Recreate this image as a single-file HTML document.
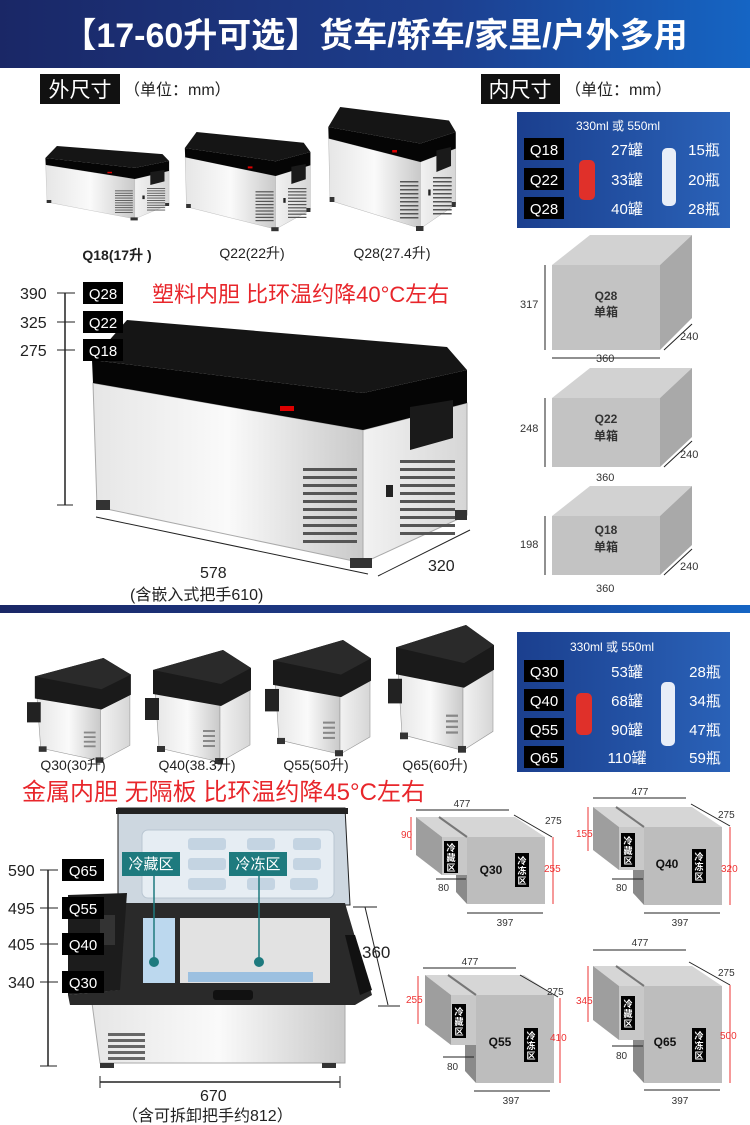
<!DOCTYPE html>
<html><head><meta charset="utf-8"><style>
html,body{margin:0;padding:0;background:#fff;width:750px;height:1125px;overflow:hidden}
svg{display:block;font-family:"Liberation Sans","Noto Sans CJK SC",sans-serif}
</style></head><body>
<svg width="750" height="1125" viewBox="0 0 750 1125" xmlns="http://www.w3.org/2000/svg">
<defs>
<linearGradient id="hdr" x1="0" x2="1"><stop offset="0" stop-color="#1a2766"/><stop offset="0.6" stop-color="#1d3f8f"/><stop offset="1" stop-color="#1565c4"/></linearGradient>
<linearGradient id="tbl" x1="0" x2="1"><stop offset="0" stop-color="#1b3f8e"/><stop offset="1" stop-color="#2a62b8"/></linearGradient>
<linearGradient id="silver" x1="0" x2="1"><stop offset="0" stop-color="#e6e6e6"/><stop offset="0.5" stop-color="#fafafa"/><stop offset="1" stop-color="#c9c9c9"/></linearGradient>
<linearGradient id="side" x1="0" x2="1"><stop offset="0" stop-color="#f2f2f2"/><stop offset="1" stop-color="#d6d6d6"/></linearGradient>
<g id="fr1">
<polygon points="93,383 363,430 363,563 97,507" fill="url(#silver)" stroke="#aaa" stroke-width="1"/>
<polygon points="363,430 467,403 467,515 363,563" fill="url(#side)" stroke="#aaa"/>
<polygon points="92,360 127,320 447,347 467,370 363,393" fill="#151515"/>
<polygon points="92,360 363,393 467,370 467,403 363,430 93,383" fill="#050505"/>
<polygon points="410,407 453,400 453,438 410,450" fill="#1a1a1a"/>
<g fill="#555"><rect x="303" y="468" width="54" height="3"/><rect x="303" y="476" width="54" height="3"/><rect x="303" y="484" width="54" height="3"/><rect x="303" y="492" width="54" height="3"/><rect x="303" y="500" width="54" height="3"/><rect x="303" y="508" width="54" height="3"/><rect x="303" y="516" width="54" height="3"/><rect x="303" y="524" width="54" height="3"/><rect x="303" y="532" width="54" height="3"/><rect x="303" y="540" width="54" height="3"/></g>
<g fill="#555"><rect x="400" y="460" width="55" height="3"/><rect x="400" y="468" width="55" height="3"/><rect x="400" y="476" width="55" height="3"/><rect x="400" y="484" width="55" height="3"/><rect x="400" y="492" width="55" height="3"/><rect x="400" y="500" width="55" height="3"/><rect x="400" y="508" width="55" height="3"/><rect x="400" y="516" width="55" height="3"/><rect x="400" y="524" width="55" height="3"/><rect x="400" y="532" width="55" height="3"/></g>
<rect x="386" y="485" width="7" height="12" fill="#222"/>
<rect x="96" y="500" width="14" height="10" fill="#333"/><rect x="350" y="558" width="22" height="10" fill="#333"/><rect x="455" y="510" width="12" height="10" fill="#333"/>
<rect x="280" y="406" width="14" height="5" fill="#d00"/>
</g>
<g id="fr2">
<polygon points="10,40 75,48 75,112 14,98" fill="url(#silver)" stroke="#999" stroke-width="0.6"/>
<polygon points="75,48 105,38 105,95 75,112" fill="url(#side)" stroke="#999" stroke-width="0.6"/>
<polygon points="8,20 78,0 106,18 106,40 76,56 8,44" fill="#1a1a1a"/>
<polygon points="8,20 78,0 106,18 76,34" fill="#2a2a2a"/>
<rect x="0" y="48" width="14" height="22" fill="#222"/>
<g fill="#888"><rect x="58" y="80" width="12" height="2"/><rect x="58" y="85" width="12" height="2"/><rect x="58" y="90" width="12" height="2"/><rect x="58" y="95" width="12" height="2"/></g>
<rect x="12" y="96" width="8" height="6" fill="#333"/><rect x="70" y="108" width="8" height="6" fill="#333"/>
</g>
</defs>

<!-- header -->
<rect x="0" y="0" width="750" height="68" fill="url(#hdr)"/>
<text x="375" y="47" text-anchor="middle" font-size="34" font-weight="bold" fill="#fff">【17-60升可选】货车/轿车/家里/户外多用</text>

<!-- section labels -->
<rect x="40" y="74" width="80" height="30" fill="#111"/>
<text x="80" y="97" text-anchor="middle" font-size="21" fill="#fff">外尺寸</text>
<text x="124" y="95" font-size="16" fill="#222">（单位：mm）</text>
<rect x="481" y="74" width="79" height="30" fill="#111"/>
<text x="520" y="97" text-anchor="middle" font-size="21" fill="#fff">内尺寸</text>
<text x="565" y="95" font-size="16" fill="#222">（单位：mm）</text>

<!-- small fridges top -->
<use href="#fr1" transform="translate(15,50) scale(0.33,0.3)"/>
<use href="#fr1" transform="translate(154,4) scale(0.335,0.4)"/>
<use href="#fr1" transform="translate(297,-53) scale(0.34,0.5)"/>
<text x="117" y="260" text-anchor="middle" font-size="14" font-weight="bold" fill="#222">Q18(17升 )</text>
<text x="252" y="258" text-anchor="middle" font-size="14" fill="#222">Q22(22升)</text>
<text x="392" y="258" text-anchor="middle" font-size="14" fill="#222">Q28(27.4升)</text>

<!-- table 1 -->
<rect x="517" y="112" width="213" height="116" fill="url(#tbl)"/>
<text x="576" y="130" font-size="12" fill="#fff">330ml   或   550ml</text>
<g font-size="15" fill="#fff">
<rect x="524" y="138" width="40" height="22" fill="#000"/><text x="544" y="155" text-anchor="middle">Q18</text>
<rect x="524" y="168" width="40" height="22" fill="#000"/><text x="544" y="185" text-anchor="middle">Q22</text>
<rect x="524" y="197" width="40" height="22" fill="#000"/><text x="544" y="214" text-anchor="middle">Q28</text>
<text x="627" y="155" text-anchor="middle">27罐</text><text x="627" y="185" text-anchor="middle">33罐</text><text x="627" y="214" text-anchor="middle">40罐</text>
<text x="704" y="155" text-anchor="middle">15瓶</text><text x="704" y="185" text-anchor="middle">20瓶</text><text x="704" y="214" text-anchor="middle">28瓶</text>
</g>
<rect x="579" y="160" width="16" height="40" rx="5" fill="#e0302a"/>
<rect x="662" y="148" width="14" height="58" rx="5" fill="#e8eef8"/>

<!-- cubes -->
<g font-size="12" fill="#333">
<g>
<polygon points="552,265 590,235 692,235 660,265" fill="#d2d2d2"/>
<polygon points="660,265 692,235 692,318 660,350" fill="#a9a9a9"/>
<rect x="552" y="265" width="108" height="85" fill="#c3c3c3"/>
<line x1="545" y1="265" x2="545" y2="350" stroke="#222"/><text x="520" y="308" font-size="11">317</text>
<line x1="552" y1="358" x2="660" y2="358" stroke="#222"/><text x="596" y="362" font-size="11">360</text>
<line x1="664" y1="350" x2="692" y2="324" stroke="#222"/><text x="680" y="340" font-size="11">240</text>
<text x="606" y="300" text-anchor="middle" font-weight="bold">Q28</text><text x="606" y="316" text-anchor="middle" font-weight="bold">单箱</text>
</g>
<g>
<polygon points="552,398 590,368 692,368 660,398" fill="#d2d2d2"/>
<polygon points="660,398 692,368 692,437 660,467" fill="#a9a9a9"/>
<rect x="552" y="398" width="108" height="69" fill="#c3c3c3"/>
<line x1="545" y1="398" x2="545" y2="467" stroke="#222"/><text x="520" y="432" font-size="11">248</text>
<text x="596" y="481" font-size="11">360</text>
<line x1="664" y1="467" x2="692" y2="441" stroke="#222"/><text x="680" y="458" font-size="11">240</text>
<text x="606" y="423" text-anchor="middle" font-weight="bold">Q22</text><text x="606" y="440" text-anchor="middle" font-weight="bold">单箱</text>
</g>
<g>
<polygon points="552,516 590,486 692,486 660,516" fill="#d2d2d2"/>
<polygon points="660,516 692,486 692,545 660,575" fill="#a9a9a9"/>
<rect x="552" y="516" width="108" height="59" fill="#c3c3c3"/>
<line x1="545" y1="516" x2="545" y2="575" stroke="#222"/><text x="520" y="548" font-size="11">198</text>
<text x="596" y="592" font-size="11">360</text>
<line x1="664" y1="575" x2="692" y2="549" stroke="#222"/><text x="680" y="570" font-size="11">240</text>
<text x="606" y="534" text-anchor="middle" font-weight="bold">Q18</text><text x="606" y="551" text-anchor="middle" font-weight="bold">单箱</text>
</g>
</g>

<!-- big fridge 1 -->
<use href="#fr1"/>
<line x1="96" y1="517" x2="368" y2="574" stroke="#222"/>
<line x1="378" y1="576" x2="470" y2="530" stroke="#222"/>
<text x="200" y="578" font-size="16" fill="#222">578</text>
<text x="428" y="571" font-size="16" fill="#222">320</text>
<text x="130" y="600" font-size="16" fill="#222">(含嵌入式把手610)</text>

<!-- left dims section 1 -->
<g font-size="16" fill="#222">
<text x="20" y="299">390</text><text x="20" y="328">325</text><text x="20" y="356">275</text>
<line x1="65" y1="293" x2="65" y2="505" stroke="#222" stroke-width="1.5"/>
<line x1="57" y1="293" x2="75" y2="293" stroke="#222"/><line x1="57" y1="322" x2="75" y2="322" stroke="#222"/><line x1="57" y1="350" x2="75" y2="350" stroke="#222"/><line x1="57" y1="505" x2="73" y2="505" stroke="#222"/>
<rect x="83" y="282" width="40" height="22" fill="#000"/><text x="103" y="299" text-anchor="middle" fill="#fff" font-size="15">Q28</text>
<rect x="83" y="311" width="40" height="22" fill="#000"/><text x="103" y="328" text-anchor="middle" fill="#fff" font-size="15">Q22</text>
<rect x="83" y="339" width="40" height="22" fill="#000"/><text x="103" y="356" text-anchor="middle" fill="#fff" font-size="15">Q18</text>
</g>
<text x="152" y="302" font-size="22" fill="#e8262b">塑料内胆 比环温约降40°C左右</text>

<!-- divider -->
<rect x="0" y="605" width="750" height="8" fill="url(#hdr)"/>

<!-- section 2 fridges -->
<use href="#fr2" transform="translate(27,658) scale(0.98,0.92)"/>
<use href="#fr2" transform="translate(145,650) scale(1,1)"/>
<use href="#fr2" transform="translate(265,640) scale(1,1.02)"/>
<use href="#fr2" transform="translate(388,625) scale(1,1.12)"/>
<g font-size="14" fill="#222" text-anchor="middle">
<text x="73" y="770">Q30(30升)</text><text x="197" y="770">Q40(38.3升)</text><text x="316" y="770">Q55(50升)</text><text x="435" y="770">Q65(60升)</text>
</g>

<!-- table 2 -->
<rect x="517" y="632" width="213" height="140" fill="url(#tbl)"/>
<text x="570" y="651" font-size="12" fill="#fff">330ml   或   550ml</text>
<g font-size="15" fill="#fff">
<rect x="524" y="660" width="40" height="22" fill="#000"/><text x="544" y="677" text-anchor="middle">Q30</text>
<rect x="524" y="689" width="40" height="22" fill="#000"/><text x="544" y="706" text-anchor="middle">Q40</text>
<rect x="524" y="718" width="40" height="22" fill="#000"/><text x="544" y="735" text-anchor="middle">Q55</text>
<rect x="524" y="746" width="40" height="22" fill="#000"/><text x="544" y="763" text-anchor="middle">Q65</text>
<text x="627" y="677" text-anchor="middle">53罐</text><text x="627" y="706" text-anchor="middle">68罐</text><text x="627" y="735" text-anchor="middle">90罐</text><text x="627" y="763" text-anchor="middle">110罐</text>
<text x="705" y="677" text-anchor="middle">28瓶</text><text x="705" y="706" text-anchor="middle">34瓶</text><text x="705" y="735" text-anchor="middle">47瓶</text><text x="705" y="763" text-anchor="middle">59瓶</text>
</g>
<rect x="576" y="693" width="16" height="42" rx="5" fill="#e0302a"/>
<rect x="661" y="682" width="14" height="64" rx="5" fill="#e8eef8"/>

<text x="22" y="800" font-size="24" fill="#e8262b">金属内胆 无隔板 比环温约降45°C左右</text>

<!-- open fridge -->
<polygon points="118,808 345,808 350,905 118,905" fill="#cdd7e0" stroke="#222" stroke-width="1"/>
<rect x="116" y="808" width="232" height="6" fill="#222"/>
<rect x="142" y="830" width="192" height="68" rx="6" fill="#e6edf3" stroke="#b9c6d2"/>
<g fill="#c4d4e2"><rect x="188" y="838" width="38" height="12" rx="3"/><rect x="247" y="838" width="28" height="12" rx="3"/><rect x="293" y="838" width="28" height="12" rx="3"/><rect x="188" y="858" width="38" height="12" rx="3"/><rect x="293" y="858" width="28" height="12" rx="3"/><rect x="188" y="878" width="38" height="12" rx="3"/><rect x="247" y="878" width="28" height="12" rx="3"/><rect x="290" y="878" width="28" height="12" rx="3"/></g>
<rect x="122" y="852" width="58" height="24" fill="#1e7a7e"/><text x="151" y="869" text-anchor="middle" font-size="15" fill="#fff">冷藏区</text>
<rect x="229" y="852" width="58" height="24" fill="#1e7a7e"/><text x="258" y="869" text-anchor="middle" font-size="15" fill="#fff">冷冻区</text>
<polygon points="92,1003 345,1003 345,1063 100,1063" fill="url(#silver)" stroke="#aaa"/>
<polygon points="120,903 345,903 372,995 355,1005 70,1005 68,995 118,990" fill="#2a2a2a"/>
<polygon points="68,895 127,893 120,990 68,995" fill="#1c1c1c"/>
<rect x="143" y="918" width="32" height="65" fill="#bcd8ee"/>
<rect x="180" y="918" width="150" height="65" fill="#e2e2e2"/>
<rect x="188" y="972" width="125" height="10" fill="#9cc0e0"/>
<rect x="213" y="990" width="40" height="10" rx="3" fill="#111"/>
<polygon points="345,935 355,935 372,990 360,995" fill="#111"/>
<rect x="100" y="915" width="15" height="30" fill="#333"/>
<line x1="154" y1="876" x2="154" y2="960" stroke="#1e7a7e" stroke-width="1.5"/><circle cx="154" cy="962" r="5" fill="#1e7a7e"/>
<line x1="259" y1="876" x2="259" y2="960" stroke="#1e7a7e" stroke-width="1.5"/><circle cx="259" cy="962" r="5" fill="#1e7a7e"/>
<g fill="#666"><rect x="108" y="1033" width="37" height="3"/><rect x="108" y="1039" width="37" height="3"/><rect x="108" y="1045" width="37" height="3"/><rect x="108" y="1051" width="37" height="3"/><rect x="108" y="1057" width="37" height="3"/></g>
<rect x="100" y="1063" width="14" height="5" fill="#333"/><rect x="322" y="1063" width="14" height="5" fill="#333"/>

<!-- dims section 2 -->
<g font-size="16" fill="#222">
<text x="8" y="876">590</text><text x="8" y="914">495</text><text x="8" y="950">405</text><text x="8" y="988">340</text>
<line x1="48" y1="870" x2="48" y2="1066" stroke="#222" stroke-width="1.5"/>
<line x1="40" y1="870" x2="58" y2="870" stroke="#222"/><line x1="40" y1="908" x2="58" y2="908" stroke="#222"/><line x1="40" y1="944" x2="58" y2="944" stroke="#222"/><line x1="40" y1="982" x2="58" y2="982" stroke="#222"/><line x1="40" y1="1066" x2="57" y2="1066" stroke="#222"/>
<g font-size="15" fill="#fff" text-anchor="middle">
<rect x="62" y="859" width="42" height="22" fill="#000"/><text x="83" y="876">Q65</text>
<rect x="62" y="897" width="42" height="22" fill="#000"/><text x="83" y="914">Q55</text>
<rect x="62" y="933" width="42" height="22" fill="#000"/><text x="83" y="950">Q40</text>
<rect x="62" y="971" width="42" height="22" fill="#000"/><text x="83" y="988">Q30</text>
</g>
<line x1="365" y1="907" x2="388" y2="1005" stroke="#222"/>
<line x1="353" y1="907" x2="377" y2="907" stroke="#222"/><line x1="378" y1="1006" x2="400" y2="1006" stroke="#222"/>
<text x="362" y="958" font-size="17">360</text>
<line x1="100" y1="1082" x2="340" y2="1082" stroke="#222" stroke-width="1.5"/>
<line x1="100" y1="1076" x2="100" y2="1088" stroke="#222"/><line x1="340" y1="1076" x2="340" y2="1088" stroke="#222"/>
<text x="200" y="1101" font-size="16">670</text>
<text x="122" y="1121">（含可拆卸把手约812）</text>
</g>

<!-- box diagrams -->
<g font-size="10" fill="#333">
<polygon points="416,817 515,817 545,837 442,837" fill="#d6d6d6"/>
<polygon points="416,817 442,837 442,875 416,855" fill="#9e9e9e"/>
<rect x="442" y="837" width="25" height="38" fill="#c8c8c8"/>
<rect x="467" y="837" width="78" height="67" fill="#bdbdbd"/>
<polygon points="456,875 467,875 467,904 456,892" fill="#8a8a8a"/>
<line x1="439" y1="817" x2="467" y2="837" stroke="#777" stroke-width="2"/>
<rect x="444" y="841" width="14" height="32" fill="#000"/><text x="451" y="851" font-size="9" fill="#fff" text-anchor="middle" font-weight="bold">冷</text><text x="451" y="861" font-size="9" fill="#fff" text-anchor="middle" font-weight="bold">藏</text><text x="451" y="871" font-size="9" fill="#fff" text-anchor="middle" font-weight="bold">区</text>
<rect x="515" y="853" width="14" height="34" fill="#000"/><text x="522" y="864" font-size="9" fill="#fff" text-anchor="middle" font-weight="bold">冷</text><text x="522" y="874" font-size="9" fill="#fff" text-anchor="middle" font-weight="bold">冻</text><text x="522" y="884" font-size="9" fill="#fff" text-anchor="middle" font-weight="bold">区</text>
<text x="491" y="874" font-size="12" font-weight="bold" text-anchor="middle" fill="#111">Q30</text>
<line x1="416" y1="810" x2="509" y2="810" stroke="#222"/><text x="462" y="807" text-anchor="middle">477</text>
<line x1="514" y1="815" x2="552" y2="837" stroke="#222"/><text x="545" y="824">275</text>
<line x1="553" y1="837" x2="553" y2="904" stroke="#e33"/><text x="544" y="872" fill="#e33">255</text>
<line x1="411" y1="817" x2="411" y2="850" stroke="#e33"/><text x="401" y="838" fill="#e33">90</text>
<line x1="436" y1="879" x2="466" y2="879" stroke="#222"/><text x="438" y="891">80</text>
<line x1="467" y1="913" x2="543" y2="913" stroke="#222"/><text x="505" y="926" text-anchor="middle">397</text>

<polygon points="593,807 692,807 722,827 619,827" fill="#d6d6d6"/>
<polygon points="593,807 619,827 619,870 593,850" fill="#9e9e9e"/>
<rect x="619" y="827" width="25" height="43" fill="#c8c8c8"/>
<rect x="644" y="827" width="78" height="78" fill="#bdbdbd"/>
<polygon points="633,870 644,870 644,905 633,893" fill="#8a8a8a"/>
<line x1="616" y1="807" x2="644" y2="827" stroke="#777" stroke-width="2"/>
<rect x="621" y="833" width="14" height="34" fill="#000"/><text x="628" y="844" font-size="9" fill="#fff" text-anchor="middle" font-weight="bold">冷</text><text x="628" y="854" font-size="9" fill="#fff" text-anchor="middle" font-weight="bold">藏</text><text x="628" y="864" font-size="9" fill="#fff" text-anchor="middle" font-weight="bold">区</text>
<rect x="692" y="849" width="14" height="34" fill="#000"/><text x="699" y="860" font-size="9" fill="#fff" text-anchor="middle" font-weight="bold">冷</text><text x="699" y="870" font-size="9" fill="#fff" text-anchor="middle" font-weight="bold">冻</text><text x="699" y="880" font-size="9" fill="#fff" text-anchor="middle" font-weight="bold">区</text>
<text x="667" y="868" font-size="12" font-weight="bold" text-anchor="middle" fill="#111">Q40</text>
<line x1="593" y1="798" x2="686" y2="798" stroke="#222"/><text x="640" y="795" text-anchor="middle">477</text>
<line x1="691" y1="804" x2="730" y2="826" stroke="#222"/><text x="718" y="818">275</text>
<line x1="730" y1="827" x2="730" y2="905" stroke="#e33"/><text x="721" y="872" fill="#e33">320</text>
<line x1="588" y1="807" x2="588" y2="851" stroke="#e33"/><text x="576" y="837" fill="#e33">155</text>
<line x1="612" y1="879" x2="643" y2="879" stroke="#222"/><text x="616" y="891">80</text>
<line x1="644" y1="913" x2="720" y2="913" stroke="#222"/><text x="680" y="926" text-anchor="middle">397</text>

<polygon points="425,975 524,975 554,995 451,995" fill="#d6d6d6"/>
<polygon points="425,975 451,995 451,1045 425,1025" fill="#9e9e9e"/>
<rect x="451" y="995" width="25" height="50" fill="#c8c8c8"/>
<rect x="476" y="995" width="78" height="88" fill="#bdbdbd"/>
<polygon points="465,1045 476,1045 476,1083 465,1071" fill="#8a8a8a"/>
<line x1="448" y1="975" x2="476" y2="995" stroke="#777" stroke-width="2"/>
<rect x="452" y="1004" width="14" height="34" fill="#000"/><text x="459" y="1015" font-size="9" fill="#fff" text-anchor="middle" font-weight="bold">冷</text><text x="459" y="1025" font-size="9" fill="#fff" text-anchor="middle" font-weight="bold">藏</text><text x="459" y="1035" font-size="9" fill="#fff" text-anchor="middle" font-weight="bold">区</text>
<rect x="524" y="1028" width="14" height="34" fill="#000"/><text x="531" y="1039" font-size="9" fill="#fff" text-anchor="middle" font-weight="bold">冷</text><text x="531" y="1049" font-size="9" fill="#fff" text-anchor="middle" font-weight="bold">冻</text><text x="531" y="1059" font-size="9" fill="#fff" text-anchor="middle" font-weight="bold">区</text>
<text x="500" y="1046" font-size="12" font-weight="bold" text-anchor="middle" fill="#111">Q55</text>
<line x1="423" y1="968" x2="516" y2="968" stroke="#222"/><text x="470" y="965" text-anchor="middle">477</text>
<line x1="520" y1="975" x2="558" y2="997" stroke="#222"/><text x="547" y="995">275</text>
<line x1="560" y1="998" x2="560" y2="1083" stroke="#e33"/><text x="550" y="1041" fill="#e33">410</text>
<line x1="418" y1="976" x2="418" y2="1024" stroke="#e33"/><text x="406" y="1003" fill="#e33">255</text>
<line x1="443" y1="1057" x2="474" y2="1057" stroke="#222"/><text x="447" y="1070">80</text>
<line x1="474" y1="1091" x2="550" y2="1091" stroke="#222"/><text x="511" y="1104" text-anchor="middle">397</text>

<polygon points="593,966 692,966 722,986 619,986" fill="#d6d6d6"/>
<polygon points="593,966 619,986 619,1040 593,1020" fill="#9e9e9e"/>
<rect x="619" y="986" width="25" height="54" fill="#c8c8c8"/>
<rect x="644" y="986" width="78" height="97" fill="#bdbdbd"/>
<polygon points="633,1040 644,1040 644,1083 633,1071" fill="#8a8a8a"/>
<line x1="616" y1="966" x2="644" y2="986" stroke="#777" stroke-width="2"/>
<rect x="621" y="996" width="14" height="34" fill="#000"/><text x="628" y="1007" font-size="9" fill="#fff" text-anchor="middle" font-weight="bold">冷</text><text x="628" y="1017" font-size="9" fill="#fff" text-anchor="middle" font-weight="bold">藏</text><text x="628" y="1027" font-size="9" fill="#fff" text-anchor="middle" font-weight="bold">区</text>
<rect x="692" y="1028" width="14" height="34" fill="#000"/><text x="699" y="1039" font-size="9" fill="#fff" text-anchor="middle" font-weight="bold">冷</text><text x="699" y="1049" font-size="9" fill="#fff" text-anchor="middle" font-weight="bold">冻</text><text x="699" y="1059" font-size="9" fill="#fff" text-anchor="middle" font-weight="bold">区</text>
<text x="665" y="1046" font-size="12" font-weight="bold" text-anchor="middle" fill="#111">Q65</text>
<line x1="593" y1="950" x2="686" y2="950" stroke="#222"/><text x="640" y="946" text-anchor="middle">477</text>
<line x1="689" y1="962" x2="730" y2="985" stroke="#222"/><text x="718" y="976">275</text>
<line x1="730" y1="985" x2="730" y2="1083" stroke="#e33"/><text x="720" y="1039" fill="#e33">500</text>
<line x1="588" y1="966" x2="588" y2="1022" stroke="#e33"/><text x="576" y="1004" fill="#e33">345</text>
<line x1="612" y1="1046" x2="643" y2="1046" stroke="#222"/><text x="616" y="1059">80</text>
<line x1="644" y1="1090" x2="720" y2="1090" stroke="#222"/><text x="680" y="1104" text-anchor="middle">397</text>
</g>
</svg>
</body></html>
